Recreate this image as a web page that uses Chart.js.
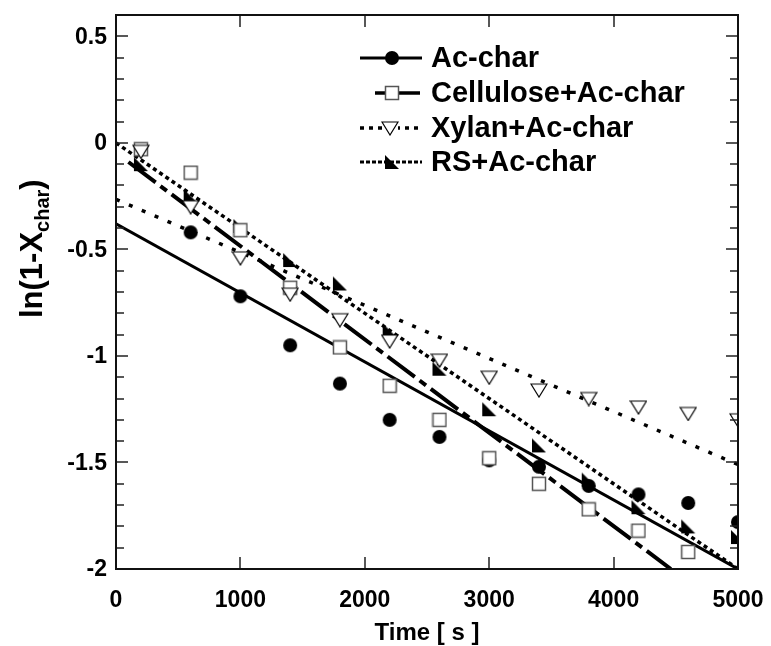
<!DOCTYPE html>
<html>
<head>
<meta charset="utf-8">
<script src="https://cdn.jsdelivr.net/npm/chart.js"></script>
<style>
  html, body { margin: 0; padding: 0; background: #ffffff; }
  #wrap { width: 771px; height: 646px; }
</style>
</head>
<body>
<div id="wrap"><canvas id="c" width="771" height="646"></canvas></div>
<script>
// Sampling times (s)
const times = [200, 600, 1000, 1400, 1800, 2200, 2600, 3000, 3400, 3800, 4200, 4600, 5000];

// ln(1 - X_char) for each sample
const acChar    = [null, -0.42, -0.72, -0.95, -1.13, -1.30, -1.38, -1.49, -1.52, -1.61, -1.65, -1.69, -1.78];
const cellulose = [-0.03, -0.14, -0.41, -0.68, -0.96, -1.14, -1.30, -1.48, -1.60, -1.72, -1.82, -1.92, null];
const xylan     = [-0.04, -0.30, -0.54, -0.71, -0.83, -0.93, -1.02, -1.10, -1.16, -1.20, -1.24, -1.27, -1.30];
const rsChar    = [-0.10, -0.25, -0.39, -0.55, -0.66, -0.88, -1.06, -1.25, -1.42, -1.58, -1.71, -1.80, -1.85];

// Fitted lines (end points)
const acFitX  = [0, 5000];   const acFitY  = [-0.38, -2.0];
const celFitX = [100, 4460]; const celFitY = [-0.09, -2.0];
const xylFitX = [0, 5000];   const xylFitY = [-0.265, -1.51];
const rsFitX  = [0, 5000];   const rsFitY  = [0.0, -2.0];

// Axis ticks
const xTicks = [0, 1000, 2000, 3000, 4000, 5000];
const yTicks = [-2, -1.5, -1, -0.5, 0, 0.5];

const seriesNames = ['Ac-char', 'Cellulose+Ac-char', 'Xylan+Ac-char', 'RS+Ac-char'];

const FONT = '"Liberation Sans", Arial, Helvetica, sans-serif';

function pts(xs, ys) {
  return xs.map((x, i) => ({ x: x, y: ys[i] })).filter(p => p.y !== null);
}

// Marker images
function markerCanvas(w, h, draw) {
  const c = document.createElement('canvas');
  c.width = w; c.height = h;
  draw(c.getContext('2d'));
  return c;
}
const mCircle = markerCanvas(16, 16, g => {
  g.fillStyle = '#000'; g.beginPath(); g.arc(8, 8, 7, 0, Math.PI * 2); g.fill();
});
const mSquare = markerCanvas(16, 16, g => {
  g.fillStyle = '#fff'; g.strokeStyle = '#555'; g.lineWidth = 1.5;
  g.fillRect(1.5, 1.5, 13, 13); g.strokeRect(1.5, 1.5, 13, 13);
});
const mTriDown = markerCanvas(18, 16, g => {
  g.fillStyle = '#fff'; g.strokeStyle = '#000'; g.lineWidth = 1.2;
  g.beginPath(); g.moveTo(1, 2); g.lineTo(17, 2); g.lineTo(9, 15); g.closePath();
  g.fill(); g.stroke();
});
const mRight = markerCanvas(16, 16, g => {
  g.fillStyle = '#000';
  g.beginPath(); g.moveTo(1, 1); g.lineTo(1, 15); g.lineTo(15, 15); g.closePath(); g.fill();
});

function fitSet(xs, ys, dash, width, order) {
  return {
    data: pts(xs, ys), showLine: true, pointRadius: 0, borderColor: '#000',
    borderWidth: width, borderDash: dash, borderCapStyle: 'butt', fill: false, order: order
  };
}
function markSet(xs, ys, img, order) {
  return {
    data: pts(xs, ys), showLine: false, pointStyle: img, pointRadius: 8,
    pointHoverRadius: 8, order: order
  };
}

// Frame, inward ticks, tick labels, axis titles and legend
const decorations = {
  id: 'decorations',
  afterDraw(chart) {
    const ctx = chart.ctx;
    const a = chart.chartArea;
    const xs = chart.scales.x, ys = chart.scales.y;
    ctx.save();
    ctx.setLineDash([]);

    // ticks
    ctx.lineWidth = 1.5; ctx.strokeStyle = '#222';
    ctx.beginPath();
    xTicks.forEach(v => {
      const px = Math.round(xs.getPixelForValue(v));
      ctx.moveTo(px, a.bottom); ctx.lineTo(px, a.bottom - 12);
      ctx.moveTo(px, a.top); ctx.lineTo(px, a.top + 12);
    });
    for (let k = -20; k <= 6; k++) {
      const py = Math.round(ys.getPixelForValue(k / 10));
      const len = (k % 5 === 0) ? 12 : 8;
      ctx.moveTo(a.left, py); ctx.lineTo(a.left + len, py);
      ctx.moveTo(a.right, py); ctx.lineTo(a.right - len, py);
    }
    ctx.stroke();

    // frame
    ctx.strokeStyle = '#111'; ctx.lineWidth = 2;
    ctx.strokeRect(a.left, a.top, a.right - a.left, a.bottom - a.top);

    // tick labels
    ctx.fillStyle = '#000';
    ctx.font = 'bold 23px ' + FONT;
    ctx.textAlign = 'center'; ctx.textBaseline = 'middle';
    xTicks.forEach(v => ctx.fillText(String(v), xs.getPixelForValue(v), 601));
    ctx.textAlign = 'right';
    yTicks.forEach(v => ctx.fillText(String(v), 107, ys.getPixelForValue(v) + 1));

    // x title
    ctx.font = 'bold 24px ' + FONT;
    ctx.textAlign = 'center'; ctx.textBaseline = 'middle';
    ctx.fillText('Time [ s ]', (a.left + a.right) / 2, 633);

    // y title with subscript
    ctx.save();
    ctx.translate(31, 318);
    ctx.rotate(-Math.PI / 2);
    ctx.textAlign = 'left'; ctx.textBaseline = 'alphabetic';
    ctx.font = 'bold 31px ' + FONT;
    const t1 = 'ln(1-X';
    ctx.fillText(t1, 0, 11);
    let off = ctx.measureText(t1).width;
    ctx.font = 'bold 20px ' + FONT;
    ctx.fillText('char', off, 18);
    off += ctx.measureText('char').width;
    ctx.font = 'bold 31px ' + FONT;
    ctx.fillText(')', off, 11);
    ctx.restore();

    // legend
    const rows = [58, 93, 128, 162];
    ctx.strokeStyle = '#000';
    // Ac-char
    ctx.lineWidth = 3; ctx.setLineDash([]);
    ctx.beginPath(); ctx.moveTo(360, rows[0]); ctx.lineTo(422, rows[0]); ctx.stroke();
    ctx.drawImage(mCircle, 392 - 8, rows[0] - 8);
    // Cellulose
    ctx.lineWidth = 3.5;
    ctx.beginPath();
    ctx.moveTo(375, rows[1]); ctx.lineTo(386, rows[1]);
    ctx.moveTo(398, rows[1]); ctx.lineTo(420, rows[1]);
    ctx.stroke();
    ctx.drawImage(mSquare, 392 - 8, rows[1] - 8);
    // Xylan
    ctx.lineWidth = 3.5; ctx.setLineDash([4, 5]);
    ctx.beginPath(); ctx.moveTo(360, rows[2]); ctx.lineTo(422, rows[2]); ctx.stroke();
    ctx.fillStyle = '#fff'; ctx.fillRect(382, rows[2] - 8, 16, 16);
    ctx.setLineDash([]);
    ctx.drawImage(mTriDown, 390 - 9, rows[2] - 8);
    // RS
    ctx.lineWidth = 3; ctx.setLineDash([4, 2]);
    ctx.beginPath(); ctx.moveTo(360, rows[3]); ctx.lineTo(422, rows[3]); ctx.stroke();
    ctx.setLineDash([]);
    ctx.drawImage(mRight, 392 - 8, rows[3] - 8);

    ctx.fillStyle = '#000';
    ctx.font = 'bold 29px ' + FONT;
    ctx.textAlign = 'left'; ctx.textBaseline = 'middle';
    seriesNames.forEach((n, i) => ctx.fillText(n, 431, rows[i] + 1));

    ctx.restore();
  }
};

new Chart(document.getElementById('c'), {
  type: 'scatter',
  data: {
    datasets: [
      fitSet(acFitX, acFitY, [], 3, 20),
      fitSet(celFitX, celFitY, [34, 6, 8, 6], 4, 20),
      fitSet(xylFitX, xylFitY, [4, 10], 3.5, 20),
      fitSet(rsFitX, rsFitY, [4, 3.5], 3.5, 20),
      markSet(times, rsChar, mRight, 8),
      markSet(times, acChar, mCircle, 6),
      markSet(times, cellulose, mSquare, 4),
      markSet(times, xylan, mTriDown, 2)
    ]
  },
  options: {
    responsive: false,
    animation: false,
    events: [],
    layout: { padding: { left: 0, right: 33, top: 15, bottom: 0 } },
    plugins: { legend: { display: false }, tooltip: { enabled: false } },
    scales: {
      x: {
        type: 'linear', min: 0, max: 5000,
        afterFit: s => { s.height = 77; },
        afterBuildTicks: s => { s.ticks = xTicks.map(v => ({ value: v })); },
        grid: { display: false, drawTicks: false },
        border: { display: false },
        ticks: { display: false, padding: 0 }
      },
      y: {
        type: 'linear', min: -2, max: 0.6,
        afterFit: s => { s.width = 116; },
        afterBuildTicks: s => { s.ticks = yTicks.map(v => ({ value: v })); },
        grid: { display: false, drawTicks: false },
        border: { display: false },
        ticks: { display: false, padding: 0 }
      }
    }
  },
  plugins: [decorations]
});
</script>
</body>
</html>
